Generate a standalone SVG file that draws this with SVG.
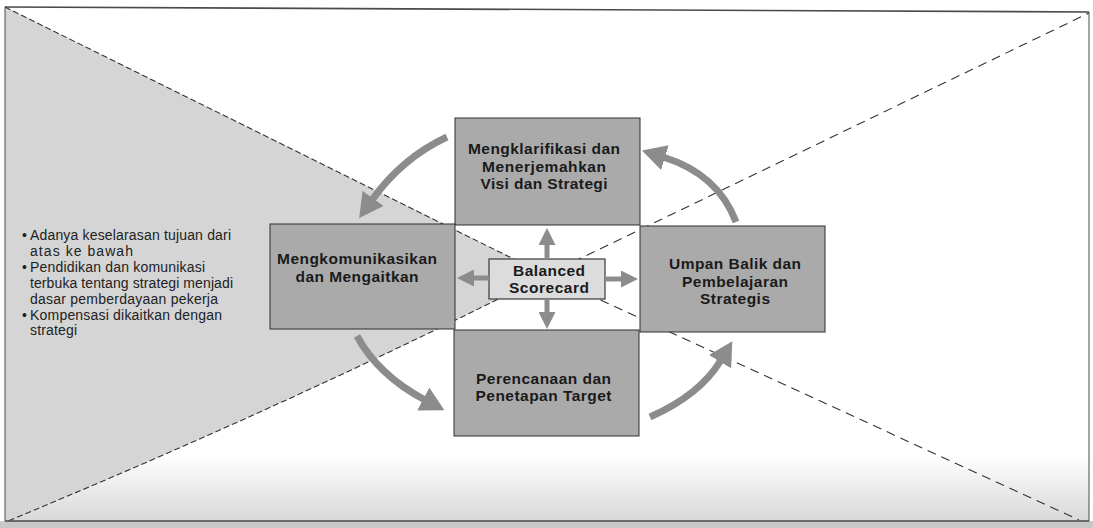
<svg xmlns="http://www.w3.org/2000/svg" width="1093" height="528" viewBox="0 0 1093 528">
<style>
.box{fill:#aaaaaa;stroke:#2e2e2e;stroke-width:1}
.bs{fill:#dcdcdc;stroke:#3a3a3a;stroke-width:1.2}
.t{font-family:"Liberation Sans",Arial,Helvetica,sans-serif;font-weight:bold;font-size:15.5px;fill:#1a1a1a;text-anchor:middle}
.b{font-family:"Liberation Sans",Arial,Helvetica,sans-serif;font-size:14px;fill:#222}
.dl{fill:none;stroke:#333;stroke-width:1.1;stroke-dasharray:6 3}
.dr{fill:none;stroke:#333;stroke-width:1.1;stroke-dasharray:9 6}
.ca{fill:none;stroke:#8c8c8c;stroke-width:7;marker-end:url(#ah)}
.sa{fill:none;stroke:#8c8c8c;stroke-width:5;marker-end:url(#sh)}
</style>
<defs>
<marker id="ah" markerUnits="userSpaceOnUse" markerWidth="24" markerHeight="26" refX="2" refY="13" orient="auto">
<path d="M0,0 L24,13 L0,26 Z" fill="#8c8c8c"/>
</marker>
<marker id="sh" markerUnits="userSpaceOnUse" markerWidth="17" markerHeight="17" refX="1" refY="8.5" orient="auto">
<path d="M0,0 L17,8.5 L0,17 Z" fill="#8c8c8c"/>
</marker>
<linearGradient id="bg" x1="0" y1="0" x2="0" y2="1">
<stop offset="0" stop-color="#d8d8d8" stop-opacity="0"/>
<stop offset="0.5" stop-color="#d8d8d8" stop-opacity="0.5"/>
<stop offset="1" stop-color="#d8d8d8" stop-opacity="1"/>
</linearGradient>
</defs>

<g id="background">
<rect x="0" y="0" width="1093" height="528" fill="#ffffff"/>
<rect x="5" y="455" width="1084" height="66" fill="url(#bg)"/>
<rect x="0" y="521" width="1093" height="7" fill="#c8c8c8"/>
</g>

<g id="shaded-region">
<path d="M5,7 L546,275 Q300,400 8,521 L5,521 Z" fill="#d5d5d5"/>
<path class="dl" d="M5,7 L546,275"/>
<path class="dl" d="M546,275 Q300,400 8,521"/>
<path class="dr" d="M546,275 L1089,13"/>
<path class="dr" d="M546,275 L1079,520"/>
</g>

<g id="node-top">
<rect class="box" x="455" y="118" width="185" height="107"/>
<text class="t" x="544" y="154" textLength="152" lengthAdjust="spacing">Mengklarifikasi dan</text>
<text class="t" x="544" y="172" textLength="124" lengthAdjust="spacing">Menerjemahkan</text>
<text class="t" x="544" y="189" textLength="127" lengthAdjust="spacing">Visi dan Strategi</text>
</g>

<g id="node-left">
<rect class="box" x="270" y="224" width="185" height="105"/>
<text class="t" x="357" y="264" textLength="160" lengthAdjust="spacing">Mengkomunikasikan</text>
<text class="t" x="357" y="282" textLength="123" lengthAdjust="spacing">dan Mengaitkan</text>
</g>

<g id="node-right">
<rect class="box" x="640" y="226" width="185" height="106"/>
<text class="t" x="735" y="269" textLength="132" lengthAdjust="spacing">Umpan Balik dan</text>
<text class="t" x="735" y="286.5" textLength="106" lengthAdjust="spacing">Pembelajaran</text>
<text class="t" x="735" y="303.5" textLength="70" lengthAdjust="spacing">Strategis</text>
</g>

<g id="node-bottom">
<rect class="box" x="454" y="330" width="185" height="106"/>
<text class="t" x="543.5" y="384" textLength="135" lengthAdjust="spacing">Perencanaan dan</text>
<text class="t" x="543.5" y="401" textLength="136" lengthAdjust="spacing">Penetapan Target</text>
</g>

<g id="node-center">
<rect class="bs" x="489" y="259" width="116" height="40"/>
<text class="t" x="549" y="275.5" textLength="72" lengthAdjust="spacing">Balanced</text>
<text class="t" x="549" y="293" textLength="80" lengthAdjust="spacing">Scorecard</text>
</g>

<g id="connectors">
<path class="sa" d="M547,259 L547,244"/>
<path class="sa" d="M547,299 L547,313"/>
<path class="sa" d="M489,278 L473,278"/>
<path class="sa" d="M605,279 L622,279"/>
<path class="ca" d="M447,137 Q402,158 372,200"/>
<path class="ca" d="M736,222 Q718,174 663,157"/>
<path class="ca" d="M357,336 Q378,375 425,400"/>
<path class="ca" d="M650,417 Q700,395 721,360"/>
</g>

<g id="bullet-list">
<text class="b" x="22" y="240">•</text>
<text class="b" x="30" y="240" textLength="201" lengthAdjust="spacing">Adanya keselarasan tujuan dari</text>
<text class="b" x="30" y="256" textLength="103" lengthAdjust="spacing">atas ke bawah</text>
<text class="b" x="22" y="272">•</text>
<text class="b" x="30" y="272" textLength="175" lengthAdjust="spacing">Pendidikan dan komunikasi</text>
<text class="b" x="30" y="288" textLength="203" lengthAdjust="spacing">terbuka tentang strategi menjadi</text>
<text class="b" x="30" y="304" textLength="188" lengthAdjust="spacing">dasar pemberdayaan pekerja</text>
<text class="b" x="22" y="319.5">•</text>
<text class="b" x="30" y="319.5" textLength="192" lengthAdjust="spacing">Kompensasi dikaitkan dengan</text>
<text class="b" x="30" y="335" textLength="47" lengthAdjust="spacing">strategi</text>
</g>

<g id="frame" fill="none" stroke="#4a4a4a">
<path d="M5,7 L1089,12" stroke-width="1.6"/>
<path d="M5,7 L5,521" stroke-width="1"/>
<path d="M1089,12 L1089,521" stroke-width="1"/>
<path d="M5,521 L1089,521" stroke-width="1.6"/>
</g>
</svg>
